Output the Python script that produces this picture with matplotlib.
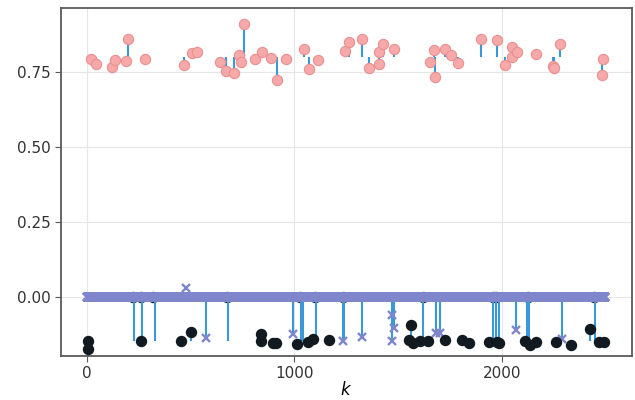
import numpy as np
import matplotlib.pyplot as plt

n = 2500
k = np.arange(n)

# blue x estimate: zero except at these indices
est_idx = [480, 574, 995, 1236, 1324, 1470, 1473, 1481, 1685, 1704, 2067, 2291]
est_val = [0.029, -0.138, -0.124, -0.147, -0.134, -0.147, -0.06, -0.102, -0.121, -0.121, -0.11, -0.141]

# pink circles
pink_k = [18, 42, 122, 135, 188, 198, 281, 469, 509, 530, 644, 673, 710, 734, 742, 755,
          810, 842, 888, 917, 962, 1047, 1071, 1113, 1245, 1263, 1327, 1359, 1406, 1407,
          1427, 1481, 1655, 1671, 1679, 1724, 1753, 1788, 1902, 1979, 2018, 2047, 2050,
          2072, 2164, 2247, 2252, 2280, 2483, 2488]
pink_y = [0.792, 0.776, 0.766, 0.788, 0.787, 0.861, 0.794, 0.773, 0.814, 0.815, 0.782, 0.752,
          0.745, 0.806, 0.782, 0.908, 0.793, 0.816, 0.795, 0.724, 0.794, 0.826, 0.761, 0.788,
          0.821, 0.848, 0.859, 0.762, 0.816, 0.777, 0.844, 0.828, 0.784, 0.823, 0.734, 0.827,
          0.806, 0.781, 0.861, 0.857, 0.773, 0.833, 0.798, 0.816, 0.809, 0.768, 0.764, 0.843,
          0.738, 0.793]
pink_base = 0.80

# black circles sitting on zero (mostly hidden by the band)
blk0_k = [220, 260, 320, 675, 1027, 1099, 1236, 1618, 1958, 1974, 2127, 2445]

# black circles below zero
blk_k = [6, 6, 259, 453, 501, 839, 839, 895, 914, 1015, 1067, 1091, 1166, 1553, 1561, 1573,
         1608, 1645, 1725, 1810, 1842, 1939, 1979, 1985, 2111, 2135, 2164, 2260, 2336, 2424,
         2467, 2495]
blk_y = [-0.147, -0.173, -0.147, -0.146, -0.118, -0.124, -0.147, -0.154, -0.154, -0.158,
         -0.15, -0.141, -0.144, -0.145, -0.093, -0.152, -0.147, -0.147, -0.143, -0.143,
         -0.154, -0.15, -0.15, -0.154, -0.147, -0.16, -0.15, -0.15, -0.16, -0.107, -0.15, -0.15]

# stems hanging from zero
stem_k = [225, 265, 328, 574, 680, 995, 1030, 1040, 1103, 1236, 1240, 1324, 1470, 1481, 1620,
          1685, 1704, 1960, 1973, 1985, 2067, 2122, 2133, 2291, 2451]
stem_end = [-0.147, -0.147, -0.147, -0.138, -0.147, -0.124, -0.147, -0.147, -0.147, -0.147,
            -0.147, -0.134, -0.147, -0.102, -0.147, -0.121, -0.121, -0.147, -0.147, -0.147,
            -0.11, -0.147, -0.147, -0.141, -0.147]
low_base = -0.147
short_k = [501, 1561, 2424]
short_top = [-0.118, -0.093, -0.107]

est = np.zeros(n)
est[est_idx] = est_val

stem_c = '#3a98d6'
band_c = '#7f86cc'

fig = plt.figure(figsize=(6.35, 4), dpi=100)
ax = fig.add_axes([0.096, 0.11, 0.899, 0.87])

ax.plot(blk0_k, np.zeros(len(blk0_k)), 'o', color='#121a21', ms=7.2, zorder=1)
ax.vlines(pink_k, pink_base, pink_y, color=stem_c, lw=1.5, zorder=2)
ax.vlines(stem_k, 0, stem_end, color=stem_c, lw=1.5, zorder=2)
ax.vlines(short_k, low_base, short_top, color=stem_c, lw=1.5, zorder=2)
ax.plot(k, est, 'x', color=band_c, ms=5.5, mew=1.7, zorder=3)
ax.plot(blk_k, blk_y, 'o', color='#121a21', ms=7.2, zorder=4)
ax.plot(pink_k, pink_y, 'o', mfc='#f7a8a8', mec='#e89090', mew=0.8, ms=7.4, zorder=4)

ax.set_xlim(-125, 2627)
ax.set_ylim(-0.197, 0.963)
ax.set_xticks([0, 1000, 2000])
ax.set_yticks([0, 0.25, 0.5, 0.75])
ax.grid(True, color='#e6e6e6', lw=0.8)
ax.set_axisbelow(True)
for s in ax.spines.values():
    s.set_color('#5a5a5a')
    s.set_linewidth(1.3)
ax.tick_params(colors='#333333', labelsize=11, length=4, color='#5a5a5a')
ax.set_xlabel('$k$', fontsize=12, labelpad=0)

plt.savefig('out.png', dpi=100)
